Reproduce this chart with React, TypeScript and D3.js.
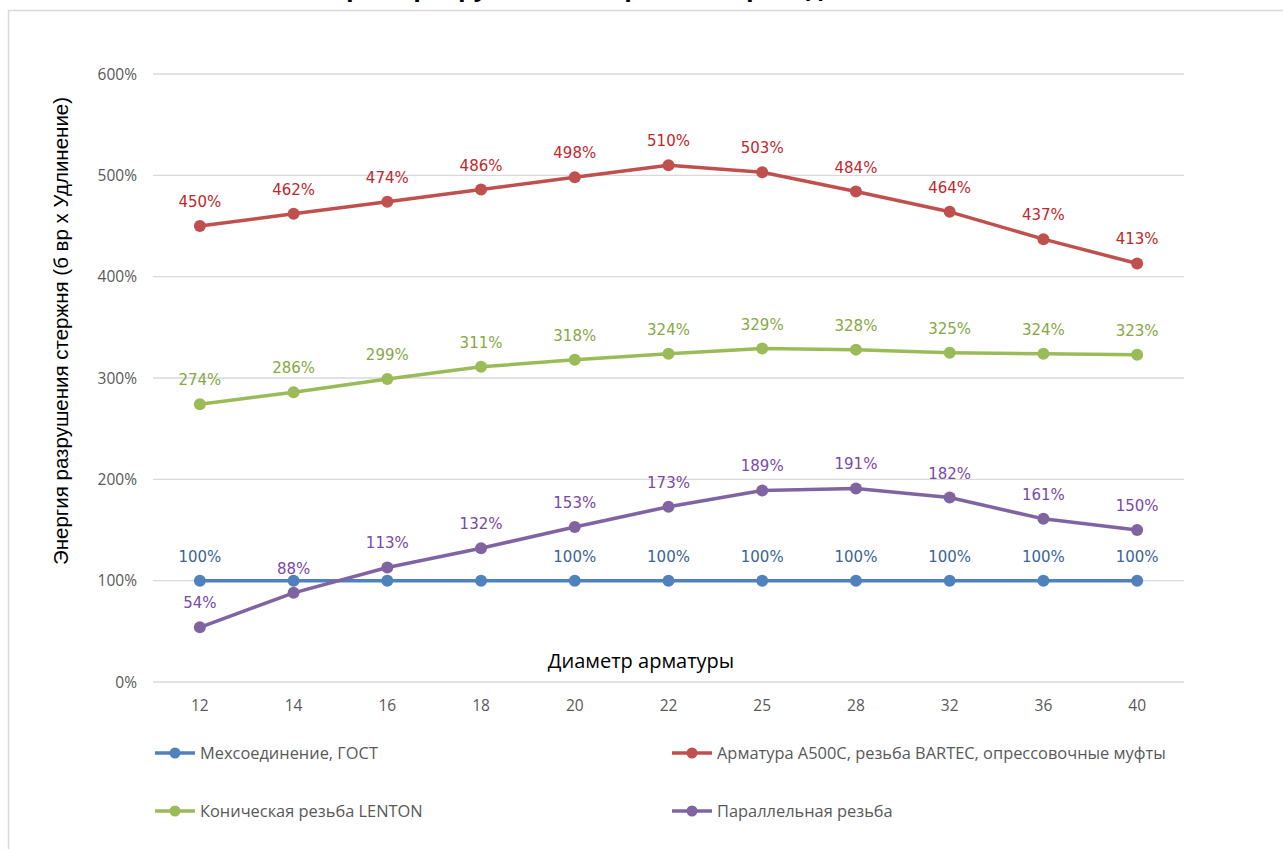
import React from "react";
import * as d3 from "d3";

const categories = ["12", "14", "16", "18", "20", "22", "25", "28", "32", "36", "40"];
const gostValues = [100, 100, 100, 100, 100, 100, 100, 100, 100, 100, 100];
const bartecValues = [450, 462, 474, 486, 498, 510, 503, 484, 464, 437, 413];
const lentonValues = [274, 286, 299, 311, 318, 324, 329, 328, 325, 324, 323];
const parallelValues = [54, 88, 113, 132, 153, 173, 189, 191, 182, 161, 150];
const yTicks = [0, 100, 200, 300, 400, 500, 600];

const seriesList = [
  { name: "Мехсоединение, ГОСТ", values: gostValues, color: "#4F81BD", labelColor: "#3A6496", hideLabels: [1, 2, 3] },
  { name: "Арматура А500С, резьба BARTEC, опрессовочные муфты", values: bartecValues, color: "#C0504D", labelColor: "#C0282D", hideLabels: [] as number[] },
  { name: "Коническая резьба LENTON", values: lentonValues, color: "#9BBB59", labelColor: "#86A845", hideLabels: [] as number[] },
  { name: "Параллельная резьба", values: parallelValues, color: "#8064A2", labelColor: "#7A48AA", hideLabels: [] as number[] },
];
const drawOrder = [0, 1, 2, 3];

const W = 1283;
const H = 849;

export default function App() {
  const x = d3.scaleBand<string>().domain(categories).range([153, 1184]);
  const y = d3.scaleLinear().domain([0, 600]).range([682, 74]);
  const cx = (c: string) => (x(c) as number) + x.bandwidth() / 2;
  const line = d3
    .line<number>()
    .x((_, i) => cx(categories[i]))
    .y((v) => y(v));

  const legendPos = [
    { lx: 155, ly: 753 },
    { lx: 672, ly: 753 },
    { lx: 155, ly: 811 },
    { lx: 672, ly: 811 },
  ];

  return (
    <svg
      width={W}
      height={H}
      style={{ position: "absolute", left: 0, top: 0, background: "#fff" }}
    >
      <rect x={0} y={0} width={W} height={H} fill="#fff" />
      {/* chart frame */}
      <rect x={8.5} y={10.5} width={W + 20} height={H + 20} fill="none" stroke="#D9D9D9" strokeWidth={1.5} />
      {/* clipped title (only descenders visible, as in the reference) */}
      <text
        x={622}
        y={-4}
        textAnchor="middle"
        fontFamily="'Open Sans', sans-serif"
        fontWeight="bold"
        fontSize={25}
        fill="#000"
      >
        Энергия разрушения стержня (б вр х Удлинение)
      </text>
      {/* gridlines */}
      {yTicks.map((t) => (
        <line key={t} x1={153} x2={1184} y1={y(t)} y2={y(t)} stroke="#D9D9D9" strokeWidth={1.3} />
      ))}
      {/* y tick labels */}
      {yTicks.map((t) => (
        <text
          key={"yl" + t}
          x={137}
          y={y(t) + 5.5}
          textAnchor="end"
          fontFamily="'Open Sans', sans-serif"
          fontSize={15.5}
          fill="#595959"
        >
          {t + "%"}
        </text>
      ))}
      {/* x tick labels */}
      {categories.map((c) => (
        <text
          key={"xl" + c}
          x={cx(c)}
          y={711}
          textAnchor="middle"
          fontFamily="'Open Sans', sans-serif"
          fontSize={15.5}
          fill="#595959"
        >
          {c}
        </text>
      ))}
      {/* axis titles */}
      <text
        transform={`translate(68,331) rotate(-90)`}
        textAnchor="middle"
        fontFamily="'Liberation Sans', Arial, sans-serif"
        fontSize={20.5}
        fill="#000"
      >
        Энергия разрушения стержня (б вр х Удлинение)
      </text>
      <text
        x={641}
        y={668}
        textAnchor="middle"
        fontFamily="'Open Sans', sans-serif"
        fontSize={20}
        fill="#000"
      >
        Диаметр арматуры
      </text>
      {/* series */}
      {drawOrder.map((si) => {
        const s = seriesList[si];
        return (
          <g key={s.name}>
            <path d={line(s.values) || ""} fill="none" stroke={s.color} strokeWidth={3.5} strokeLinejoin="round" />
            {s.values.map((v, i) => (
              <circle key={i} cx={cx(categories[i])} cy={y(v)} r={6} fill={s.color} />
            ))}
          </g>
        );
      })}
      {/* data labels */}
      {drawOrder.map((si) => {
        const s = seriesList[si];
        return (
          <g key={"lab" + s.name}>
            {s.values.map((v, i) =>
              s.hideLabels.includes(i) ? null : (
                <text
                  key={i}
                  x={cx(categories[i])}
                  y={y(v) - 19}
                  textAnchor="middle"
                  fontFamily="'DejaVu Sans', Verdana, sans-serif"
                  fontSize={15}
                  fill={s.labelColor}
                >
                  {v + "%"}
                </text>
              )
            )}
          </g>
        );
      })}
      {/* legend */}
      {seriesList.map((s, i) => {
        const p = legendPos[i];
        return (
          <g key={"lg" + s.name}>
            <line x1={p.lx} x2={p.lx + 40} y1={p.ly} y2={p.ly} stroke={s.color} strokeWidth={3.5} />
            <circle cx={p.lx + 20} cy={p.ly} r={5.5} fill={s.color} />
            <text
              x={p.lx + 45}
              y={p.ly + 5.5}
              fontFamily="'Open Sans', sans-serif"
              fontSize={16.4}
              fill="#595959"
            >
              {s.name}
            </text>
          </g>
        );
      })}
    </svg>
  );
}
